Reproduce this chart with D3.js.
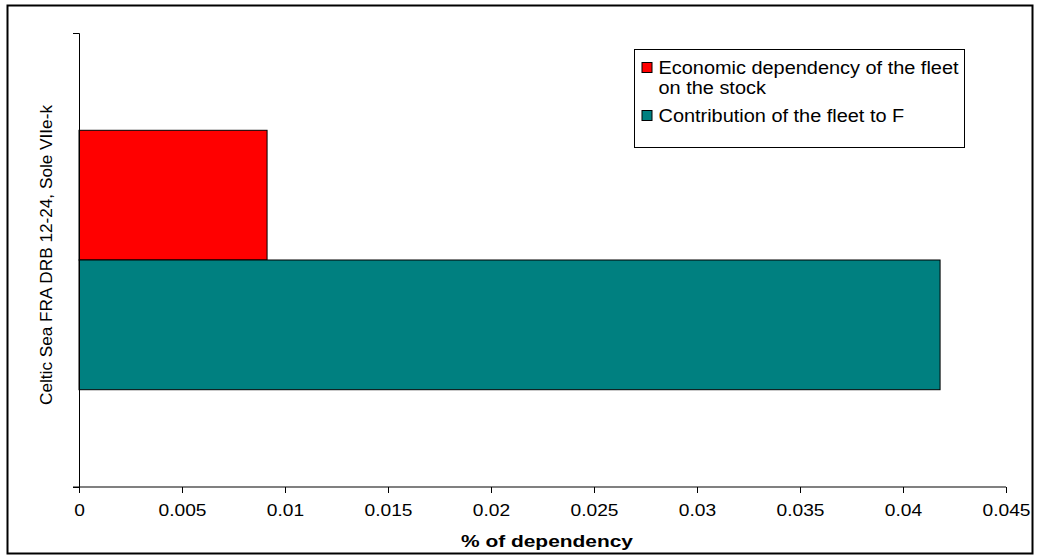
<!DOCTYPE html>
<html>
<head>
<meta charset="utf-8">
<script src="https://cdn.jsdelivr.net/npm/d3@7"></script>
<style>
  body { margin: 0; background: #fff; }
  text { font-family: Arial, "Liberation Sans", sans-serif; }
</style>
</head>
<body>
<div id="chart"></div>
<script>
// data
const categories = ["Celtic Sea FRA DRB 12-24,  Sole VIIe-k"];
const seriesNames = ["Economic dependency of the fleet on the stock", "Contribution of the fleet to F"];
const seriesColors = ["#FF0000", "#008080"];
const economicDependency = [0.00913];
const contributionToF = [0.0418];
const xTicks = [0, 0.005, 0.01, 0.015, 0.02, 0.025, 0.03, 0.035, 0.04, 0.045];

const W = 1039, H = 559;
const margin = { top: 33, right: 33, bottom: 72, left: 79 },
  width = W - margin.left - margin.right,
  height = H - margin.top - margin.bottom;

const svg = d3.select("#chart").append("svg")
  .attr("width", W)
  .attr("height", H);

// outer frame
svg.append("rect")
  .attr("x", 7.5).attr("y", 5.5)
  .attr("width", 1025).attr("height", 548)
  .attr("fill", "#fff")
  .attr("stroke", "#000")
  .attr("stroke-width", 2);

const g = svg.append("g")
  .attr("transform", "translate(" + margin.left + "," + margin.top + ")");

const x = d3.scaleLinear().domain([0, 0.045]).range([0, 927]);
const y0 = d3.scaleBand().domain(categories).range([0, height]).paddingInner(0).paddingOuter(0);
// excel gap width ~150%
const y1 = d3.scaleBand().domain([0, 1]).range([0, y0.bandwidth()]).paddingOuter(0.75).paddingInner(0);

const rows = categories.map((c, i) => ({ cat: c, values: [economicDependency[i], contributionToF[i]] }));

rows.forEach(function (r) {
  r.values.forEach(function (v, j) {
    g.append("rect")
      .attr("x", x(0))
      .attr("y", y0(r.cat) + y1(j))
      .attr("width", x(v))
      .attr("height", y1.bandwidth())
      .attr("fill", seriesColors[j])
      .attr("stroke", "#000")
      .attr("stroke-width", 1);
  });
});

// x axis
const xAxis = g.append("g")
  .attr("transform", "translate(0," + height + ")")
  .call(d3.axisBottom(x).tickValues(xTicks).tickFormat(d3.format("")).tickSize(6).tickSizeOuter(0).tickPadding(12));
xAxis.select(".domain").attr("stroke", "#808080").attr("stroke-width", 2)
  .attr("d", "M-6,0H" + x(0.045));
xAxis.selectAll(".tick line").attr("stroke", "#000");
// labels are a bit wide in the original, stretch them
xAxis.selectAll("text")
  .attr("font-size", 16)
  .attr("fill", "#000")
  .attr("font-family", "Arial, 'Liberation Sans', sans-serif")
  .attr("transform", "scale(1.2,1)");

// y axis
const yAxis = g.append("g")
  .call(d3.axisLeft(y0).tickValues([]).tickSizeOuter(6));
yAxis.select(".domain").attr("stroke", "#000");

// y title
svg.append("text")
  .attr("transform", "translate(52," + (margin.top + 222) + ") rotate(-90)")
  .attr("text-anchor", "middle")
  .attr("font-size", 17)
  .attr("textLength", 300)
  .attr("lengthAdjust", "spacingAndGlyphs")
  .text(categories[0]);

// x title
svg.append("text")
  .attr("x", 547).attr("y", 547)
  .attr("text-anchor", "middle")
  .attr("font-size", 17)
  .attr("font-weight", "bold")
  .attr("textLength", 172)
  .attr("lengthAdjust", "spacingAndGlyphs")
  .text("% of dependency");

// legend
const legend = svg.append("g").attr("transform", "translate(634.5,49.5)");
legend.append("rect")
  .attr("width", 330).attr("height", 98)
  .attr("fill", "#fff").attr("stroke", "#000").attr("stroke-width", 1);

const legendLines = [["Economic dependency of the fleet", "on the stock"], ["Contribution of the fleet to F"]];
const legendY = [18, 66];
const legendTexts = [];
legendLines.forEach(function (lines, i) {
  legend.append("rect")
    .attr("x", 7.5).attr("y", legendY[i] - 5)
    .attr("width", 10).attr("height", 10)
    .attr("fill", seriesColors[i]).attr("stroke", "#000");
  lines.forEach(function (t, k) {
    legendTexts.push(legend.append("text")
      .attr("x", 24).attr("y", legendY[i] + 6 + k * 20)
      .attr("font-size", 18)
      .text(t));
  });
});
// stretch legend text to the reference width
const scale = 300 / legendTexts[0].node().getComputedTextLength();
legendTexts.forEach(function (t) {
  t.attr("textLength", t.node().getComputedTextLength() * scale)
    .attr("lengthAdjust", "spacingAndGlyphs");
});
</script>
</body>
</html>
